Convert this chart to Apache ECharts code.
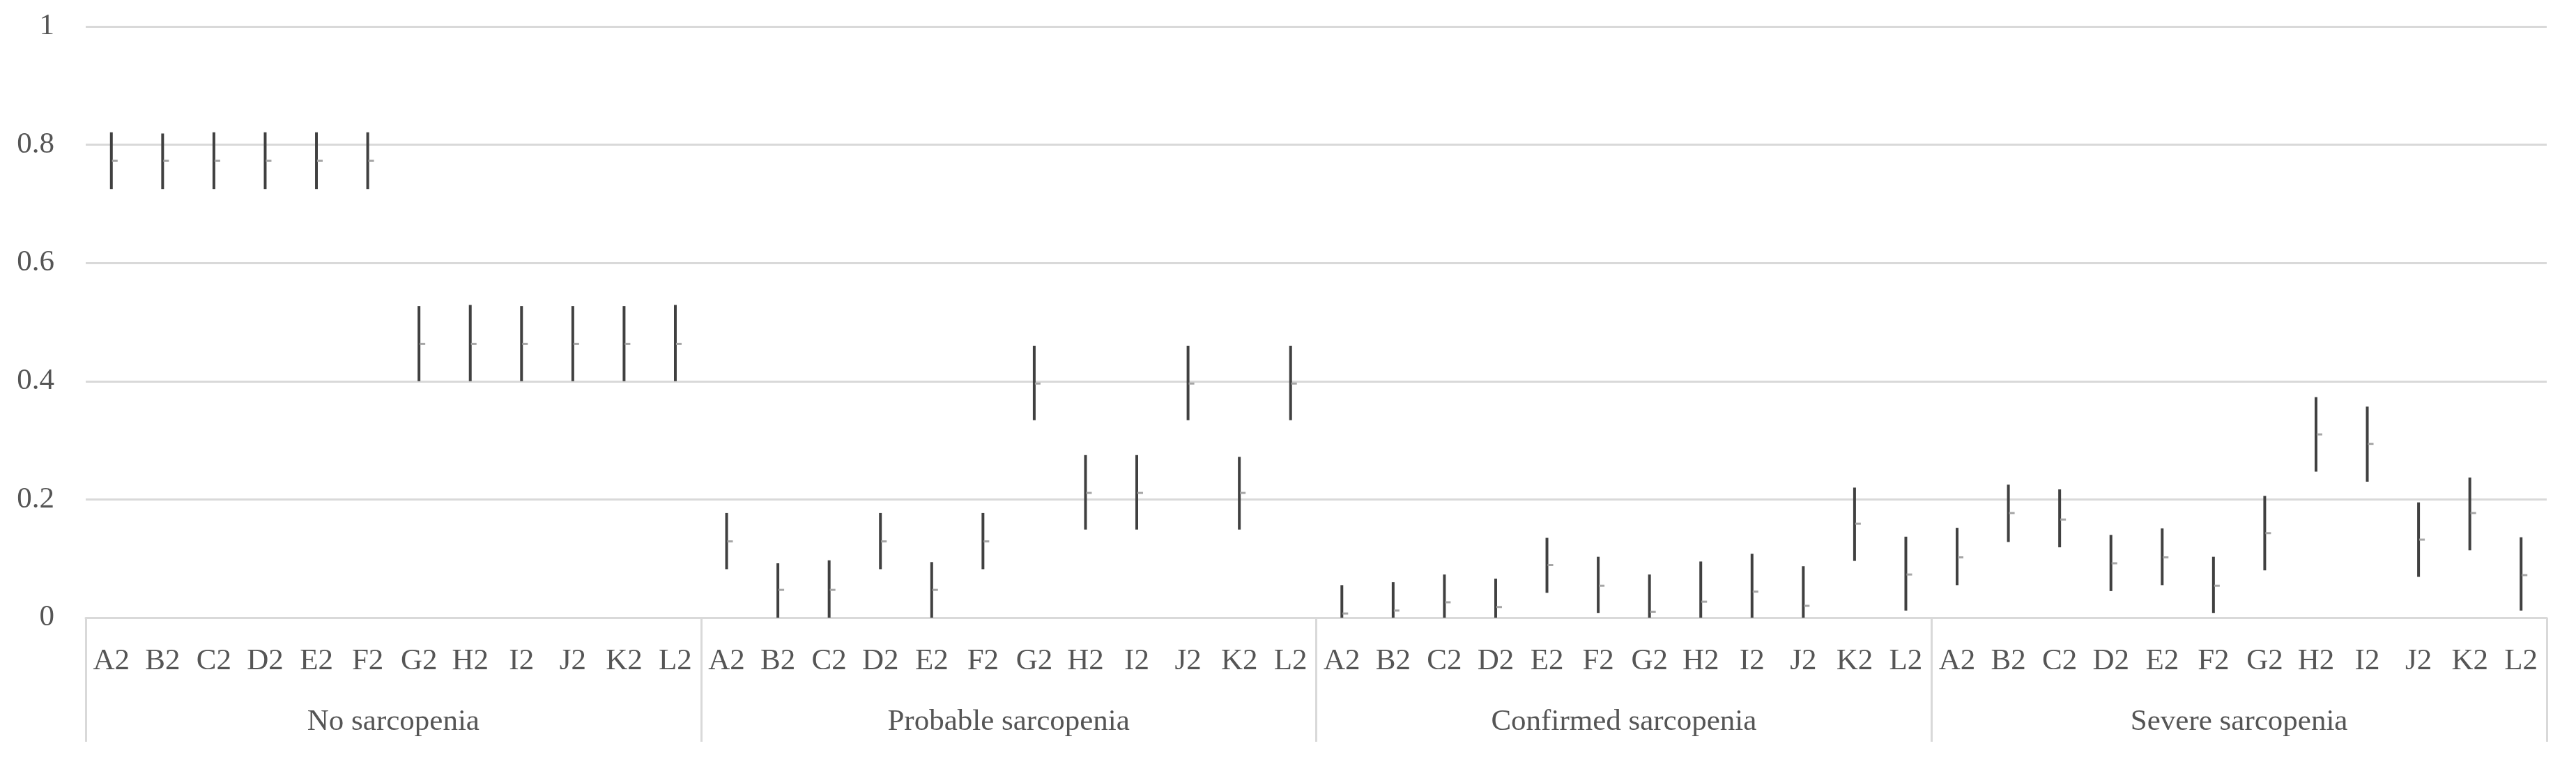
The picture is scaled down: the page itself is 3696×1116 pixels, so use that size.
<!DOCTYPE html>
<html>
<head>
<meta charset="utf-8">
<script src="https://cdn.jsdelivr.net/npm/echarts@6/dist/echarts.min.js"></script>
<style>html,body{margin:0;padding:0;background:#fff;}#c{width:3696px;height:1116px;}</style>
</head>
<body>
<div id="c"></div>
<script>
const groups = ['No sarcopenia', 'Probable sarcopenia', 'Confirmed sarcopenia', 'Severe sarcopenia'];
const labels = ['A2', 'B2', 'C2', 'D2', 'E2', 'F2', 'G2', 'H2', 'I2', 'J2', 'K2', 'L2'];

const noMean = [0.773, 0.773, 0.773, 0.773, 0.773, 0.773, 0.463, 0.463, 0.463, 0.463, 0.463, 0.463];
const noLow  = [0.725, 0.725, 0.725, 0.725, 0.725, 0.725, 0.400, 0.400, 0.400, 0.400, 0.400, 0.400];
const noHigh = [0.821, 0.819, 0.821, 0.821, 0.821, 0.821, 0.527, 0.529, 0.527, 0.527, 0.527, 0.529];

const probMean = [0.129, 0.047, 0.047, 0.129, 0.047, 0.129, 0.396, 0.211, 0.211, 0.396, 0.211, 0.396];
const probLow  = [0.082, 0.000, 0.000, 0.082, 0.000, 0.082, 0.334, 0.149, 0.149, 0.334, 0.149, 0.334];
const probHigh = [0.177, 0.092, 0.097, 0.177, 0.094, 0.177, 0.460, 0.275, 0.275, 0.460, 0.272, 0.460];

const confMean = [0.007, 0.012, 0.026, 0.018, 0.089, 0.054, 0.010, 0.027, 0.044, 0.020, 0.159, 0.073];
const confLow  = [0.000, 0.000, 0.000, 0.000, 0.042, 0.008, 0.000, 0.000, 0.000, 0.000, 0.096, 0.012];
const confHigh = [0.055, 0.060, 0.073, 0.066, 0.135, 0.103, 0.073, 0.095, 0.108, 0.087, 0.220, 0.137];

const sevMean = [0.102, 0.177, 0.166, 0.092, 0.102, 0.054, 0.143, 0.310, 0.294, 0.132, 0.177, 0.072];
const sevLow  = [0.055, 0.128, 0.119, 0.045, 0.055, 0.008, 0.080, 0.247, 0.230, 0.069, 0.114, 0.012];
const sevHigh = [0.152, 0.225, 0.217, 0.140, 0.151, 0.103, 0.206, 0.373, 0.357, 0.195, 0.237, 0.136];

const means = [noMean, probMean, confMean, sevMean];
const lows = [noLow, probLow, confLow, sevLow];
const highs = [noHigh, probHigh, confHigh, sevHigh];

const categories = [];
const data = [];
groups.forEach((g, gi) => {
  labels.forEach((l, li) => {
    const idx = categories.length;
    categories.push(l);
    data.push([idx, lows[gi][li], highs[gi][li], means[gi][li]]);
  });
});

const FONT = '"Liberation Serif", "DejaVu Serif", serif';
const TXT = '#555555';
const GRID = '#d9d9d9';

const chart = echarts.init(document.getElementById('c'), null, {renderer: 'canvas'});
chart.setOption({
  animation: false,
  backgroundColor: '#fff',
  grid: {left: 123, right: 42, top: 38, bottom: 230, containLabel: false},
  xAxis: [
    {
      type: 'category', data: categories, boundaryGap: true, position: 'bottom',
      axisLine: {show: true, lineStyle: {color: GRID, width: 3}},
      axisTick: {show: false},
      axisLabel: {interval: 0, margin: 41, fontFamily: FONT, fontSize: 43, color: TXT}
    },
    {
      type: 'category', data: groups, boundaryGap: true, position: 'bottom',
      axisLine: {show: false},
      axisTick: {show: true, length: 178, interval: 0, lineStyle: {color: GRID, width: 3}},
      axisLabel: {interval: 0, margin: 128, fontFamily: FONT, fontSize: 43, color: TXT}
    }
  ],
  yAxis: {
    type: 'value', min: 0, max: 1, interval: 0.2,
    axisLine: {show: false}, axisTick: {show: false},
    splitLine: {lineStyle: {color: GRID, width: 3}},
    axisLabel: {margin: 45, fontFamily: FONT, fontSize: 43, color: TXT}
  },
  series: [{
    type: 'custom',
    xAxisIndex: 0,
    clip: true,
    data: data,
    encode: {x: 0, y: [1, 2, 3]},
    renderItem: function (params, api) {
      const x = api.value(0);
      const lo = api.coord([x, api.value(1)]);
      const hi = api.coord([x, api.value(2)]);
      const mid = api.coord([x, api.value(3)]);
      return {
        type: 'group',
        children: [
          {type: 'line', shape: {x1: lo[0], y1: lo[1], x2: hi[0], y2: hi[1]},
           style: {stroke: '#404040', lineWidth: 4}},
          {type: 'line', shape: {x1: mid[0] + 1, y1: mid[1], x2: mid[0] + 9, y2: mid[1]},
           style: {stroke: '#a6a6a6', lineWidth: 3}}
        ]
      };
    }
  }]
});
</script>
</body>
</html>
